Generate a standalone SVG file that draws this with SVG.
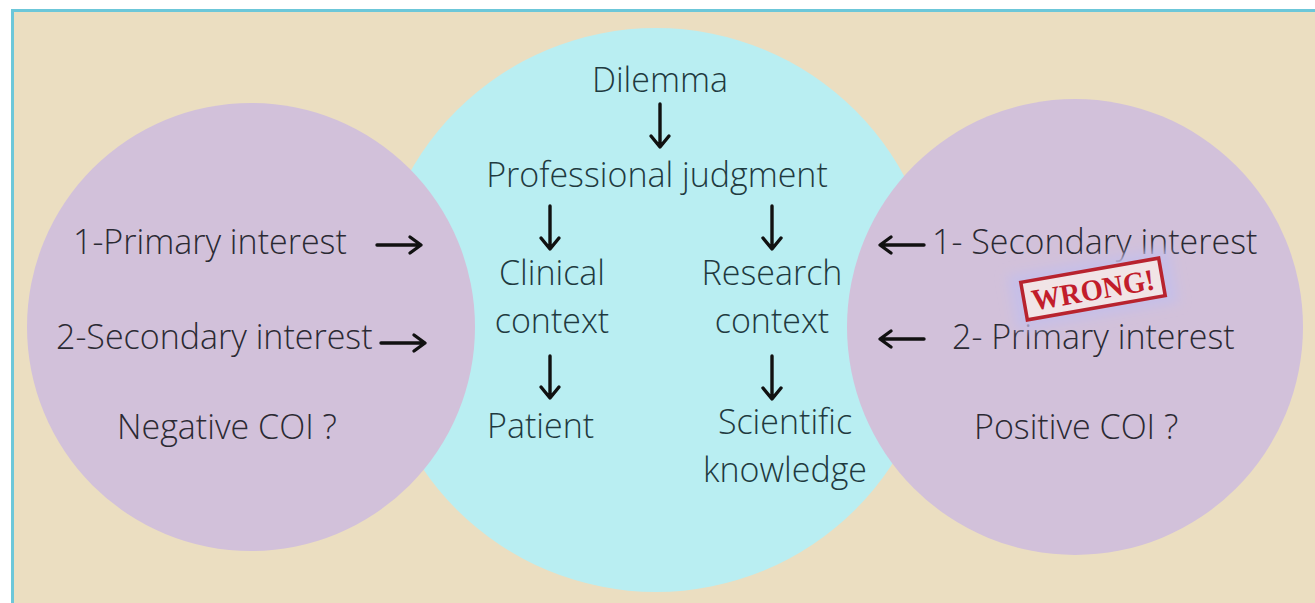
<svg xmlns="http://www.w3.org/2000/svg" width="1315" height="603" viewBox="0 0 1315 603">
<defs>
<style>
.t{font-family:"Open Sans","Liberation Sans",sans-serif;font-size:34px;font-weight:300;fill:#2b2a33;}
.c{fill:#1f3a3f;}
.ar{stroke:#111;stroke-width:3.4;fill:none;stroke-linecap:round;stroke-linejoin:round;}
</style>
<filter id="blur" x="-30%" y="-30%" width="160%" height="160%"><feGaussianBlur stdDeviation="6"/></filter>
</defs>
<rect x="0" y="0" width="1315" height="603" fill="#ffffff"/>
<rect x="12.5" y="10.5" width="1310" height="600" fill="#ebdec1" stroke="#6cc7d9" stroke-width="3"/>
<g id="center-circle"><circle cx="656" cy="310" r="282" fill="#b9eef2"/></g>
<g id="left-circle">
<circle cx="251" cy="327" r="224" fill="#d2c1da"/>
<text class="t" x="73" y="254">1-Primary interest</text>
<text class="t" x="56" y="349">2-Secondary interest</text>
<text class="t" x="117" y="439">Negative COI ?</text>
</g>
<g id="right-circle">
<circle cx="1075" cy="327" r="228" fill="#d2c1da"/>
<text class="t" x="932" y="254">1- Secondary interest</text>
<text class="t" x="952" y="349">2- Primary interest</text>
<text class="t" x="974" y="439">Positive COI ?</text>
</g>
<g id="dilemma"><text class="t c" x="660" y="92" text-anchor="middle">Dilemma</text></g>
<g id="judgment"><text class="t c" x="657" y="187" text-anchor="middle">Professional judgment</text></g>
<g id="clinical"><text class="t c" x="552" y="285" text-anchor="middle">Clinical</text><text class="t c" x="552" y="333" text-anchor="middle">context</text></g>
<g id="research"><text class="t c" x="772" y="285" text-anchor="middle">Research</text><text class="t c" x="772" y="333" text-anchor="middle">context</text></g>
<g id="patient"><text class="t c" x="487" y="438">Patient</text></g>
<g id="scientific"><text class="t c" x="785" y="434" text-anchor="middle">Scientific</text><text class="t c" x="785" y="482" text-anchor="middle">knowledge</text></g>
<g id="wrong" transform="translate(1093,289) rotate(-10)">
<rect x="-82" y="-28" width="164" height="56" fill="#c6bfe8" filter="url(#blur)"/>
<rect x="-70" y="-19" width="140" height="38" fill="#f1e4e6" stroke="#b8232e" stroke-width="3.5"/>
<text x="0" y="11" text-anchor="middle" font-family="Liberation Serif,serif" font-weight="bold" font-size="30" fill="#c21d2b" textLength="124" lengthAdjust="spacingAndGlyphs">WRONG!</text>
</g>
<g id="connectors">
<path class="ar" d="M660 104 V146 M651 136 L660 147 L669 136"/>
<path class="ar" d="M550 206 V248 M541 238 L550 249 L559 238"/>
<path class="ar" d="M772 206 V248 M763 238 L772 249 L781 238"/>
<path class="ar" d="M550 356 V397 M541 387 L550 398 L559 387"/>
<path class="ar" d="M772 356 V398 M763 388 L772 399 L781 388"/>
<path class="ar" d="M377 245 H420 M410 237 L421 245 L410 253"/>
<path class="ar" d="M381 343 H424 M414 335 L425 343 L414 351"/>
<path class="ar" d="M924 245 H881 M891 237 L880 245 L891 253"/>
<path class="ar" d="M924 339 H881 M891 331 L880 339 L891 347"/>
</g>
</svg>
